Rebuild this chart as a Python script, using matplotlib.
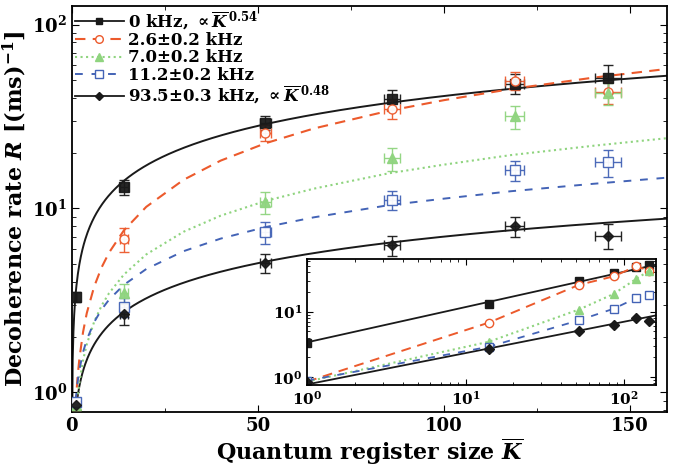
import numpy as np
import matplotlib
matplotlib.use("Agg")
import matplotlib.pyplot as plt
from matplotlib.lines import Line2D
from matplotlib.ticker import MultipleLocator, LogLocator, NullFormatter

plt.rcParams['font.family'] = ['DejaVu Serif']
plt.rcParams['font.weight'] = 'bold'
plt.rcParams['mathtext.fontset'] = 'dejavuserif'
plt.rcParams['mathtext.default'] = 'bf'
plt.rcParams['axes.linewidth'] = 1.3

# measured decoherence rates vs register size
K = [1, 14, 52, 86, 119, 144]
K_err = [0, 1.0, 1.5, 2.2, 2.5, 3.5]

R_0 = [3.3, 13.1, 29.2, 39.3, 47.7, 51.4]
R_0_err = [0.2, 1.2, 2.6, 4.5, 6.0, 9.0]
R_26 = [0.85, 6.8, 25.8, 34.8, 49.5, 42.8]
R_26_err = [0.05, 1.0, 2.5, 4.0, 5.5, 6.0]
R_70 = [0.85, 3.46, 10.8, 18.7, 31.7, 42.3]
R_70_err = [0.05, 0.4, 1.5, 2.7, 4.5, 6.0]
R_112 = [0.88, 2.9, 7.4, 11.1, 16.1, 17.8]
R_112_err = [0.05, 0.35, 1.0, 1.3, 2.0, 3.0]
R_935 = [0.85, 2.66, 5.05, 6.3, 8.0, 7.1]
R_935_err = [0.05, 0.35, 0.6, 0.8, 1.0, 1.1]

# model curves for the intermediate modulation frequencies
K_model = [1, 1.5, 2, 3, 4, 6, 8, 10, 14, 20, 30, 40, 52, 65, 85, 100, 118, 140, 160]
fit_26 = [0.85, 1.19, 1.51, 2.12, 2.69, 3.76, 4.78, 5.75, 7.6, 10.2, 14.3, 18.2,
          22.6, 27.2, 33.9, 38.8, 44.6, 51.4, 57.4]
fit_70 = [0.69, 0.92, 1.12, 1.49, 1.82, 2.42, 2.96, 3.46, 4.37, 5.62, 7.46, 9.13,
          10.97, 12.8, 15.5, 17.3, 19.5, 21.9, 24.1]
fit_112 = [0.9, 1.12, 1.32, 1.65, 1.93, 2.41, 2.82, 3.19, 3.84, 4.68, 5.85, 6.85,
           7.91, 8.94, 10.4, 11.3, 12.4, 13.6, 14.7]

# power-law fits for the two extreme cases
amp_0, exp_0 = 3.4, 0.54
amp_935, exp_935 = 0.77, 0.48

black = '#1a1a1a'
orange = '#ec5a2c'
green = '#8fd47f'
blue = '#4363b6'

fig = plt.figure(figsize=(6.78, 4.72), dpi=100)
ax = fig.add_axes([0.106, 0.127, 0.878, 0.86])

k_line = np.linspace(0.02, 160, 800)
ax.plot(k_line, amp_0 * k_line**exp_0, '-', color=black, lw=1.4)
ax.plot(k_line, amp_935 * k_line**exp_935, '-', color=black, lw=1.4)
ax.plot(K_model, fit_26, color=orange, lw=1.5, dashes=(5, 3.5))
ax.plot(K_model, fit_70, ':', color=green, lw=1.5)
ax.plot(K_model, fit_112, color=blue, lw=1.4, dashes=(4, 4.5))

series = [
    (R_0, R_0_err, 's', black, black, black),
    (R_26, R_26_err, 'o', orange, 'white', orange),
    (R_70, R_70_err, '^', green, green, green),
    (R_112, R_112_err, 's', blue, 'white', blue),
    (R_935, R_935_err, 'D', black, black, black),
]
for vals, errs, mk, ec, fc, col in series:
    ax.errorbar(K, vals, xerr=K_err, yerr=errs, fmt=mk, ms=6.5 if mk != 'D' else 5.5,
                mfc=fc, mec=ec, mew=1.0, ecolor=col, elinewidth=1.0,
                capsize=3.5, capthick=1.0, alpha=0.95, zorder=3)

ax.set_yscale('log')
ax.set_xlim(0, 160)
ax.set_ylim(0.78, 126)
ax.xaxis.set_major_locator(MultipleLocator(50))
ax.xaxis.set_minor_locator(MultipleLocator(25))
ax.tick_params(which='both', direction='in', top=True, right=True, labelsize=13)
ax.tick_params(which='major', length=5)
ax.tick_params(which='minor', length=3)
for lab in ax.get_xticklabels() + ax.get_yticklabels():
    lab.set_fontweight('bold')

ax.set_xlabel(r'Quantum register size $\overline{\mathbfit{K}}$', fontsize=16,
              fontweight='bold', labelpad=1)
ax.set_ylabel(r'Decoherence rate $\mathbfit{R}$ [(ms)$^{\mathbf{-1}}$]', fontsize=16,
              fontweight='bold', labelpad=2)

handles = [
    Line2D([], [], color=black, lw=1.3, marker='s', ms=5, mfc=black),
    Line2D([], [], color=orange, lw=1.5, dashes=(5, 3.5), marker='o', ms=5.5, mfc='white'),
    Line2D([], [], color=green, lw=1.5, ls=':', marker='^', ms=5.5, mfc=green),
    Line2D([], [], color=blue, lw=1.4, dashes=(4, 4.5), marker='s', ms=5.5, mfc='white'),
    Line2D([], [], color=black, lw=1.3, marker='D', ms=4.5, mfc=black),
]
labels = [
    r'0 kHz, $\propto\overline{\mathbfit{K}}^{\,\mathbf{0.54}}$',
    '2.6±0.2 kHz',
    '7.0±0.2 kHz',
    '11.2±0.2 kHz',
    r'93.5±0.3 kHz, $\propto\overline{\mathbfit{K}}^{\,\mathbf{0.48}}$',
]
leg = ax.legend(handles, labels, loc='upper left', frameon=False, fontsize=12,
                handlelength=2.9, handletextpad=0.25, labelspacing=0.02,
                borderaxespad=0.1, borderpad=0.1)
for t in leg.get_texts():
    t.set_fontweight('bold')

# log-log inset of the same data
axin = fig.add_axes([0.453, 0.184, 0.515, 0.268])
k_in = np.linspace(1, 160, 400)
axin.plot(k_in, amp_0 * k_in**exp_0, '-', color=black, lw=1.3)
axin.plot(k_in, amp_935 * k_in**exp_935, '-', color=black, lw=1.3)
axin.plot(K, R_0, 's', color=black, ms=5.5)
axin.plot(K, R_26, color=orange, lw=1.4, dashes=(5, 3.5), marker='o', ms=6,
          mfc='white', mec=orange)
axin.plot(K, R_70, ':', color=green, lw=1.5, marker='^', ms=6, mfc=green, mec=green)
axin.plot(K, R_112, color=blue, lw=1.3, dashes=(4, 4.5), marker='s', ms=5.5,
          mfc='white', mec=blue)
axin.plot(K, R_935, 'D', color=black, ms=5)
axin.set_xscale('log')
axin.set_yscale('log')
axin.set_xlim(1, 160)
axin.set_ylim(0.75, 65)
axin.xaxis.set_major_locator(LogLocator(base=10, numticks=5))
axin.yaxis.set_major_locator(LogLocator(base=10, numticks=5))
axin.xaxis.set_minor_formatter(NullFormatter())
axin.yaxis.set_minor_formatter(NullFormatter())
axin.tick_params(which='both', direction='in', top=True, right=True, labelsize=11)
axin.tick_params(which='major', length=4)
axin.tick_params(which='minor', length=2.5)

fig.savefig('out.png', dpi=100)
